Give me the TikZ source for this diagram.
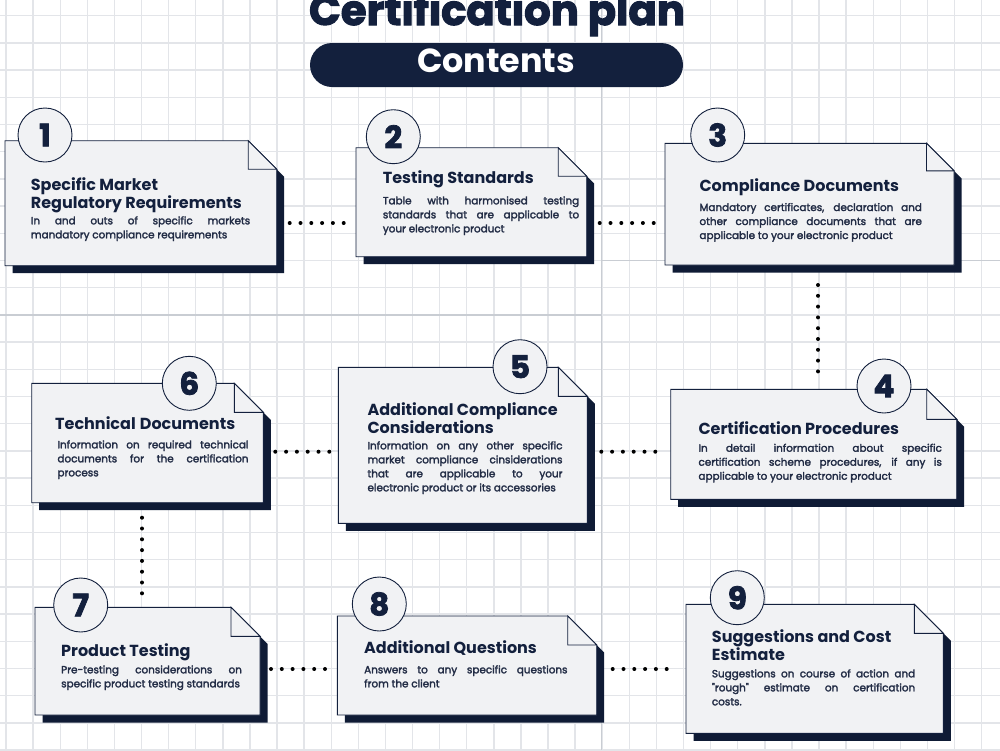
\documentclass[tikz,border=0pt]{standalone}
\usepackage{fontspec}
\setmainfont{Poppins}
\newfontfamily\bodyf{Poppins}[FakeBold=2.4]
\newfontfamily\numf{Poppins}[BoldFeatures={FakeBold=2.5}]
\usetikzlibrary{calc}
\definecolor{navy}{HTML}{13203D}
\definecolor{shadowc}{HTML}{0F1B35}
\definecolor{cardfill}{HTML}{F1F2F4}
\definecolor{gridc}{HTML}{E3E5E9}
\definecolor{gridd}{HTML}{C9CDD3}
\definecolor{bodyc}{HTML}{222C45}
\newcommand\jl[1]{\makebox[\linewidth][s]{#1}\\}
\newcommand\card[6]{%
  \node[cardnode, minimum width={#4-#2}, minimum height={#5-#3}] (#1) at ({(#2+#4)/2},{(#3+#5)/2}) {};
  \fill[shadowc] ([shift={(7.5,7.5)}]#1.north west) -- ([shift={(7.5-#6,7.5)}]#1.north east) -- ([shift={(7.5,7.5+#6)}]#1.north east) -- ([shift={(7.5,7.5)}]#1.south east) -- ([shift={(7.5,7.5)}]#1.south west) -- cycle;
  \draw[cardline, fill=cardfill] (#1.north west) -- ([shift={(-#6,0)}]#1.north east) -- ([shift={(0,#6)}]#1.north east) -- (#1.south east) -- (#1.south west) -- cycle;
  \draw[cardline, fill=cardfill] ([shift={(-#6,0)}]#1.north east) -- ([shift={(-#6,#6)}]#1.north east) -- ([shift={(0,#6)}]#1.north east) -- cycle;
}
\begin{document}
\begin{tikzpicture}[x=1pt,y=-1pt,
  cardnode/.style={inner sep=0pt, outer sep=0pt, draw=none},
  cardline/.style={draw=navy, line width=0.9pt, line join=miter},
  numcirc/.style={circle, draw=navy, fill=cardfill, line width=0.9pt, minimum size=54pt, inner sep=0pt, text=navy, font=\numf\fontsize{31}{31}\selectfont\bfseries},
  headtext/.style={inner sep=0pt, anchor=base west, text=navy, font=\fontsize{16}{14.5}\selectfont\bfseries},
  bodytext/.style={inner sep=0pt, anchor=base west, text=bodyc, font=\bodyf\fontsize{10.4}{14}\selectfont},
  gridline/.style={draw=gridc, line width=1.4pt},
  gridbold/.style={draw=gridd, line width=1.4pt},
  dotline/.style={draw=black, line width=4pt, line cap=round, dash pattern=on 0pt off 10.8pt}
]
\useasboundingbox (0,0) rectangle (1000,750);
\fill[white] (0,0) rectangle (1000,750);
% grid
\foreach \k in {0,...,36} \draw[gridline] ({6+27.1*\k},0) -- ({6+27.1*\k},750);
\foreach \k in {0,...,27} \draw[gridline] (0,{15.7+27.2*\k}) -- (1000,{15.7+27.2*\k});
\draw[gridbold] (601.2,0) -- (601.2,750);
\draw[gridbold] (0,314.9) -- (601.2,314.9);
\draw[gridbold] (601.2,260.5) -- (1000,260.5);

% title
\node[anchor=base, text=navy, inner sep=0pt] (title) at (497,25) {\resizebox{376pt}{!}{\numf\bfseries Certification plan}};
\node[fill=navy, rounded corners=22pt, minimum width=373pt, minimum height=44pt, inner sep=0pt] (pill) at (496.5,65) {};
\node[anchor=base, text=white, inner sep=0pt] (contents) at (496,72) {\resizebox{158pt}{!}{\bfseries Contents}};

% cards
\card{b1}{5}{140.7}{276.7}{265.7}{28.5}
\card{b2}{356}{147.7}{586.7}{256.7}{28.5}
\card{b3}{665}{143.3}{954}{265}{27.5}
\card{b4}{670.7}{389.3}{956.7}{499.3}{30}
\card{b5}{338.3}{367.3}{587.3}{523.3}{29}
\card{b6}{31.7}{383.3}{263.3}{502.7}{29}
\card{b7}{35}{607.3}{260}{715}{29}
\card{b8}{337.3}{616}{596.7}{715}{29}
\card{b9}{686}{604.3}{943.3}{733.3}{29}

% number circles
\node[numcirc] (n1) at (45,135) {1};
\node[numcirc] (n2) at (393.3,136.7) {2};
\node[numcirc] (n3) at (717.7,135) {3};
\node[numcirc] (n4) at (884,386) {4};
\node[numcirc] (n5) at (520,366.7) {5};
\node[numcirc] (n6) at (189.3,383.3) {6};
\node[numcirc] (n7) at (80.7,605) {7};
\node[numcirc] (n8) at (379.3,604) {8};
\node[numcirc] (n9) at (737.3,597.7) {9};

% headings
\node[headtext] (h1) at (30.7,190.7) {\parbox[t]{260pt}{\raggedright Specific Market\\Regulatory Requirements}};
\node[headtext] (h2) at (382.7,183.3) {Testing Standards};
\node[headtext] (h3) at (699.3,191.7) {Compliance Documents};
\node[headtext] (h4) at (698.3,434) {Certification Procedures};
\node[headtext] (h5) at (367.3,415) {\parbox[t]{220pt}{\raggedright Additional Compliance\\Considerations}};
\node[headtext] (h6) at (55,429.3) {\makebox[180pt][s]{Technical Documents}};
\node[headtext] (h7) at (61,656) {Product Testing};
\node[headtext] (h8) at (364,653.3) {Additional Questions};
\node[headtext] (h9) at (711.7,642.7) {\parbox[t]{220pt}{\raggedright Suggestions and Cost\\Estimate}};

% bodies
\node[bodytext] (p1) at (30.7,224.3) {\parbox[t]{219.3pt}{\jl{In and outs of specific markets}mandatory compliance requirements}};
\node[bodytext] (p2) at (382.7,204.3) {\parbox[t]{196.3pt}{\jl{Table with harmonised testing}\jl{standards that are applicable to}your electronic product}};
\node[bodytext] (p3) at (699.3,211) {\parbox[t]{222.4pt}{\jl{Mandatory certificates, declaration and}\jl{other compliance documents that are}applicable to your electronic product}};
\node[bodytext] (p4) at (698.3,451.7) {\parbox[t]{243.4pt}{\jl{In detail information about specific}\jl{certification scheme procedures, if any is}applicable to your electronic product}};
\node[bodytext] (p5) at (367.3,449.3) {\parbox[t]{195pt}{\jl{Information on any other specific}\jl{market compliance cinsiderations}\jl{that are applicable to your}electronic product or its accessories}};
\node[bodytext] (p6) at (57.3,448.3) {\parbox[t]{191pt}{\jl{Information on required technical}\jl{documents for the certification}process}};
\node[bodytext] (p7) at (61,673.3) {\parbox[t]{180.7pt}{\jl{Pre-testing considerations on}specific product testing standards}};
\node[bodytext] (p8) at (364,673.3) {\parbox[t]{203.3pt}{\jl{Answers to any specific questions}from the client}};
\node[bodytext] (p9) at (711.7,677.3) {\parbox[t]{203.3pt}{\jl{Suggestions on course of action and}\jl{{\char34}rough{\char34} estimate on certification}costs.}};

% connectors
\draw[dotline] ($(b1.east |- 0,223)+(13,0)$) -- ($(b2.west |- 0,223)+(-10,0)$);
\draw[dotline] ($(b2.east |- 0,223)+(13,0)$) -- ($(b3.west |- 0,223)+(-9,0)$);
\draw[dotline] ($(b3.south -| 818,0)+(0,20)$) -- ($(b4.north -| 818,0)+(0,-12)$);
\draw[dotline] ($(b5.east |- 0,451.7)+(14,0)$) -- ($(b4.west |- 0,451.7)+(-10,0)$);
\draw[dotline] ($(b6.east |- 0,451.7)+(12,0)$) -- ($(b5.west |- 0,451.7)+(-6,0)$);
\draw[dotline] ($(b6.south -| 142,0)+(0,15)$) -- ($(b7.north -| 142,0)+(0,-9)$);
\draw[dotline] ($(b7.east |- 0,669)+(11,0)$) -- ($(b8.west |- 0,669)+(-9,0)$);
\draw[dotline] ($(b8.east |- 0,669)+(16,0)$) -- ($(b9.west |- 0,669)+(-14,0)$);
\end{tikzpicture}
\end{document}
